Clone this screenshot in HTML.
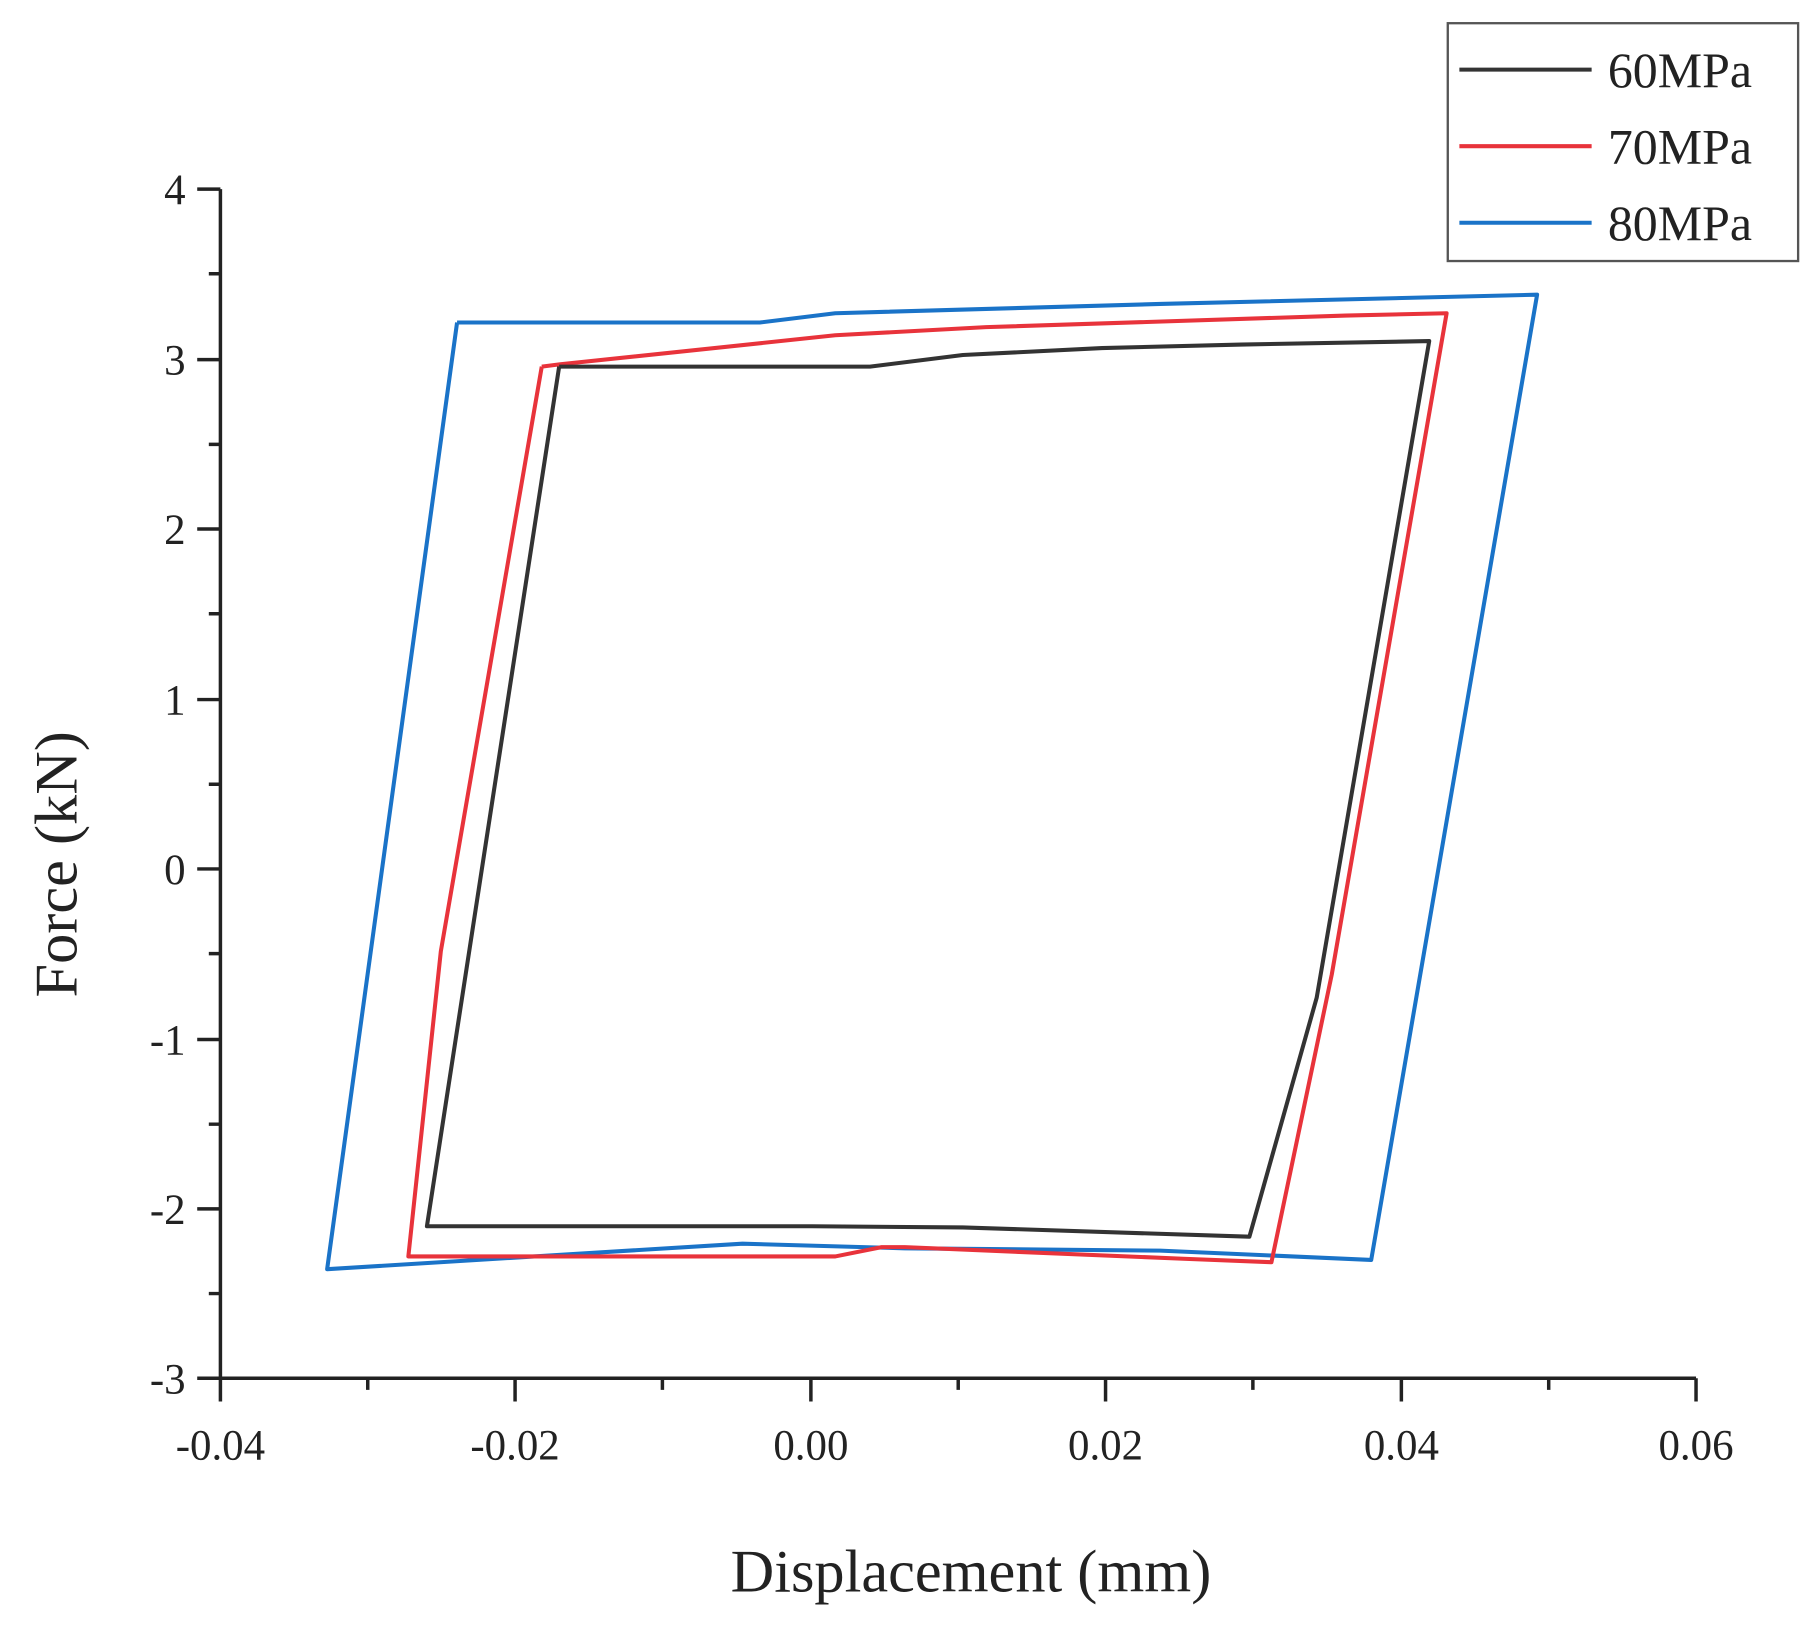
<!DOCTYPE html>
<html><head><style>html,body{margin:0;padding:0;background:#fff}svg{display:block}</style></head>
<body>
<svg width="1819" height="1630" viewBox="0 0 1568 1405" preserveAspectRatio="none" xmlns="http://www.w3.org/2000/svg" font-family="Liberation Serif, serif" fill="#222">
<g stroke="#222" stroke-width="3" fill="none">
<line x1="190" y1="163" x2="190" y2="1189"/>
<line x1="189" y1="1188" x2="1462" y2="1188"/>
<path d="M170 163H190M170 310H190M170 456H190M170 603H190M170 749H190M170 896H190M170 1042H190M170 1188H190"/>
<path d="M180 236H190M180 383H190M180 529H190M180 676H190M180 822H190M180 969H190M180 1115H190"/>
<path d="M190 1188V1208M444 1188V1208M699 1188V1208M953 1188V1208M1208 1188V1208M1462 1188V1208"/>
<path d="M317 1188V1198M571 1188V1198M826 1188V1198M1080 1188V1198M1335 1188V1198"/>
</g>
<g font-size="37" text-anchor="end">
<text x="160" y="176">4</text><text x="160" y="323">3</text><text x="160" y="469">2</text>
<text x="160" y="616">1</text><text x="160" y="762">0</text><text x="160" y="909">-1</text>
<text x="160" y="1055">-2</text><text x="160" y="1201">-3</text>
</g>
<g font-size="37" text-anchor="middle">
<text x="190" y="1258">-0.04</text><text x="444" y="1258">-0.02</text><text x="699" y="1258">0.00</text>
<text x="953" y="1258">0.02</text><text x="1208" y="1258">0.04</text><text x="1462" y="1258">0.06</text>
</g>
<text x="837" y="1372" font-size="52" text-anchor="middle">Displacement (mm)</text>
<text transform="translate(66,745) rotate(-90)" font-size="52" text-anchor="middle">Force (kN)</text>
<g fill="none" stroke-width="3.5" stroke-linejoin="round">
<polyline stroke="#1a73c8" points="394,278 655,278 720,270 1000,262 1325,254 1182,1086 1000,1078 780,1076 640,1072 282,1094 394,278"/>
<polyline stroke="#e8333b" points="467,316 483,314 720,289 850,282 1160,272 1247,270 1148,840 1096,1088 1020,1085 780,1075 760,1075 720,1083 352,1083 380,820 467,316"/>
<polyline stroke="#333" points="482,316 750,316 830,306 950,300 1070,297 1232,294 1135,860 1077,1066 830,1058 700,1057 368,1057 482,316"/>
</g>
<rect x="1248" y="20" width="302" height="205" fill="none" stroke="#555" stroke-width="2"/>
<g stroke-width="3.5">
<line x1="1258" y1="60" x2="1372" y2="60" stroke="#333"/>
<line x1="1258" y1="126" x2="1372" y2="126" stroke="#e8333b"/>
<line x1="1258" y1="192" x2="1372" y2="192" stroke="#1a73c8"/>
</g>
<g font-size="43">
<text x="1386" y="75">60MPa</text><text x="1386" y="141">70MPa</text><text x="1386" y="207">80MPa</text>
</g>
</svg>
</body></html>
